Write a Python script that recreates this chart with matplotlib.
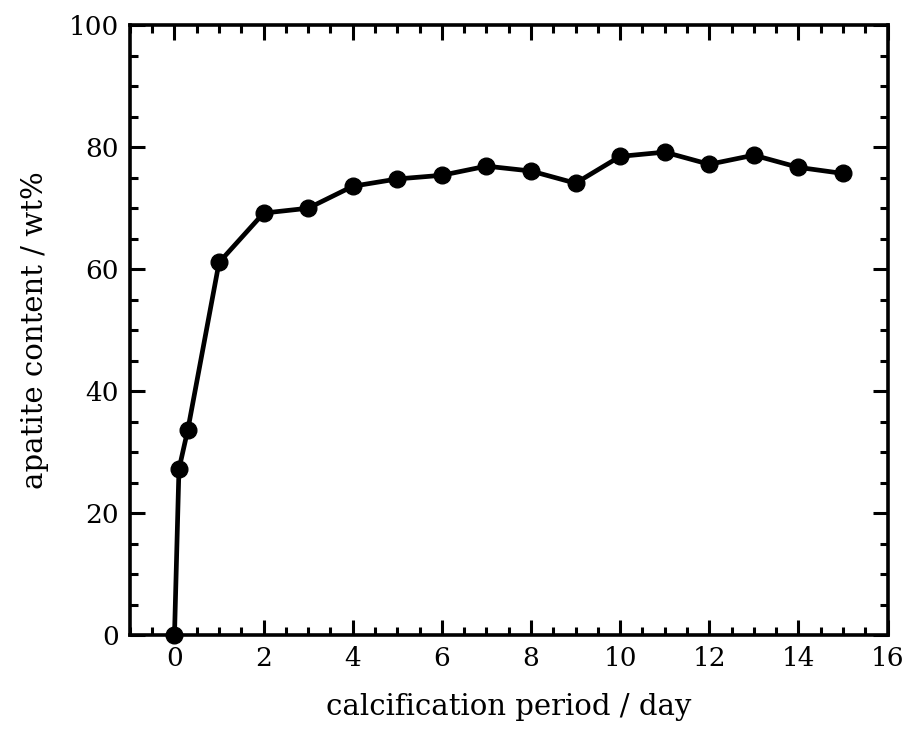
import matplotlib
matplotlib.use('Agg')
import matplotlib.pyplot as plt
from matplotlib.ticker import MultipleLocator

plt.rcParams['font.family'] = ['DejaVu Serif']

# calcification period (day) and apatite content (wt%)
days = [0, 0.1, 0.3, 1, 2, 3, 4, 5, 6, 7, 8, 9, 10, 11, 12, 13, 14, 15]
apatite = [0, 27.2, 33.7, 61.1, 69.2, 70.0, 73.6, 74.8, 75.4, 76.9,
           76.1, 74.1, 78.5, 79.2, 77.2, 78.7, 76.7, 75.7]

fig = plt.figure(figsize=(9.15, 7.44), dpi=100)
ax = fig.add_axes([0.142, 0.1465, 0.828, 0.8195])

ax.plot(days, apatite, color='black', lw=3.4, marker='o', ms=12, clip_on=False, zorder=3)

ax.set_xlim(-1, 16)
ax.set_ylim(0, 100)
ax.xaxis.set_major_locator(MultipleLocator(2))
ax.xaxis.set_minor_locator(MultipleLocator(0.5))
ax.yaxis.set_major_locator(MultipleLocator(20))
ax.yaxis.set_minor_locator(MultipleLocator(5))

for s in ax.spines.values():
    s.set_linewidth(2.6)
ax.tick_params(which='both', direction='in', top=True, right=True, width=2.2, labelsize=19, pad=8)
ax.tick_params(which='major', length=11)
ax.tick_params(which='minor', length=6)

ax.set_xlabel('calcification period / day', fontsize=21, labelpad=16)
ax.set_ylabel('apatite content / wt%', fontsize=21, labelpad=14)

fig.savefig('out.png', dpi=100)
